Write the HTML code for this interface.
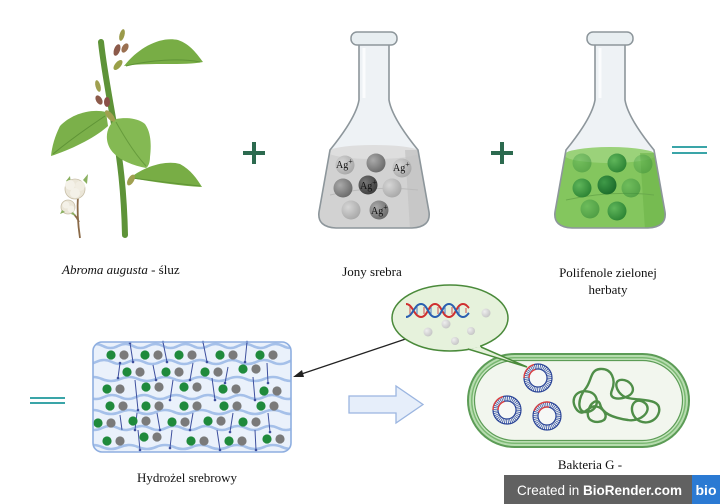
<!DOCTYPE html>
<html><head><meta charset="utf-8"><style>
html,body{margin:0;padding:0;background:#fff;}
svg{display:block;}
text{font-family:"Liberation Serif",serif;}
</style></head><body>
<svg width="720" height="504" viewBox="0 0 720 504" xmlns="http://www.w3.org/2000/svg">
<defs>
<clipPath id="f1"><path d="M359,44 L359,100 Q356,118 330,150 L319,212 Q317,227 336,228 L412,228 Q431,227 429,212 L418,150 Q392,118 389,100 L389,44 Z"/></clipPath>
<clipPath id="f2"><path d="M595,44 L595,100 Q592,118 566,150 L555,212 Q553,227 572,228 L648,228 Q667,227 665,212 L654,150 Q628,118 625,100 L625,44 Z"/></clipPath>
<clipPath id="hg"><rect x="93" y="342" width="198" height="110" rx="9"/></clipPath>
<radialGradient id="gb" cx="0.35" cy="0.35" r="0.7"><stop offset="0" stop-color="#aaa"/><stop offset="1" stop-color="#6a6a6a"/></radialGradient>
<radialGradient id="gl" cx="0.35" cy="0.35" r="0.7"><stop offset="0" stop-color="#d6d6d6"/><stop offset="1" stop-color="#a8a8a8"/></radialGradient>
<radialGradient id="gd" cx="0.35" cy="0.35" r="0.7"><stop offset="0" stop-color="#777"/><stop offset="1" stop-color="#3c3c3c"/></radialGradient>
<radialGradient id="gg" cx="0.35" cy="0.35" r="0.7"><stop offset="0" stop-color="#5fb65a"/><stop offset="1" stop-color="#2d8434"/></radialGradient>
<radialGradient id="ggd" cx="0.35" cy="0.35" r="0.7"><stop offset="0" stop-color="#3f9a48"/><stop offset="1" stop-color="#1b6b2a"/></radialGradient>
<radialGradient id="gs" cx="0.35" cy="0.35" r="0.7"><stop offset="0" stop-color="#eee"/><stop offset="1" stop-color="#c4c4c4"/></radialGradient>
</defs>

<!-- PLANT -->
<g>
<path d="M101,42 C104,70 110,100 115,130 C120,160 124,190 125,235" fill="none" stroke="#5e9338" stroke-width="6" stroke-linecap="round"/>
<path d="M124,66 C138,48 160,36 178,40 C190,44 197,54 203,62 C185,66 150,62 124,66 Z" fill="#78ad45"/>
<path d="M126,66 C150,60 180,58 200,62" fill="none" stroke="#5f9436" stroke-width="1"/>
<path d="M106,112 C90,108 70,115 60,126 C55,136 52,146 51,156 C70,150 95,138 108,126 Z" fill="#7bb04a"/>
<path d="M105,116 C90,126 70,140 53,154" fill="none" stroke="#5f9436" stroke-width="1"/>
<path d="M116,119 C126,117 138,118 145,124 C152,134 151,148 150,157 C150,163 148,167 146,168 C134,166 118,160 111,150 C104,140 106,126 116,119 Z" fill="#84b953"/>
<path d="M116,122 C126,140 136,155 146,166" fill="none" stroke="#679c3d" stroke-width="1"/>
<path d="M130,178 C145,166 166,160 180,164 C191,170 197,179 202,187 C180,186 155,182 130,178 Z" fill="#78ad45"/>
<path d="M132,178 C155,181 180,184 200,186" fill="none" stroke="#5f9436" stroke-width="1"/>
<ellipse cx="122" cy="35" rx="2.5" ry="6" fill="#9a9a4a" transform="rotate(15 122 35)"/>
<ellipse cx="117" cy="50" rx="3" ry="6" fill="#8c5a4a" transform="rotate(20 117 50)"/>
<ellipse cx="125" cy="48" rx="3" ry="5" fill="#9a7050" transform="rotate(30 125 48)"/>
<ellipse cx="118" cy="65" rx="3" ry="6" fill="#9aa048" transform="rotate(40 118 65)"/>
<ellipse cx="98" cy="86" rx="2.5" ry="6" fill="#a0a050" transform="rotate(-15 98 86)"/>
<ellipse cx="99" cy="100" rx="3" ry="5" fill="#8c5a4a" transform="rotate(-30 99 100)"/>
<ellipse cx="107" cy="102" rx="3" ry="5" fill="#8a5048"/>
<ellipse cx="110" cy="116" rx="3" ry="7" fill="#a0a050" transform="rotate(-40 110 116)"/>
<ellipse cx="131" cy="180" rx="3" ry="6" fill="#a0a050" transform="rotate(30 131 180)"/>
<!-- cotton -->
<path d="M80,238 C78,225 77,210 78,195 M79,222 C76,215 72,212 68,210" fill="none" stroke="#8a6a48" stroke-width="1.8"/>
<path d="M83,180 L88,174 L87,184 Z M66,181 L70,176 L71,184 Z" fill="#8ab060"/>
<circle cx="75" cy="189" r="10" fill="#ebe6d8" stroke="#c8bfa8" stroke-width="0.8"/>
<circle cx="70" cy="185" r="5" fill="#f4f1e8"/>
<circle cx="80" cy="186" r="5" fill="#f1ede2"/>
<circle cx="75" cy="193" r="5" fill="#f4f1e8"/>
<circle cx="68" cy="207" r="7" fill="#ebe6d8" stroke="#c8bfa8" stroke-width="0.8"/>
<circle cx="66" cy="205" r="3.5" fill="#f4f1e8"/>
<circle cx="71" cy="209" r="3.5" fill="#f4f1e8"/>
<path d="M62,210 L60,214 L65,212 Z M73,212 L76,216 L71,214 Z" fill="#8ab060"/>
</g>

<!-- PLUS SIGNS -->
<rect x="243" y="151" width="22" height="4" fill="#2c6a4f"/>
<rect x="252" y="142" width="4" height="22" fill="#2c6a4f"/>
<rect x="491" y="151" width="22" height="4" fill="#2c6a4f"/>
<rect x="500" y="142" width="4" height="22" fill="#2c6a4f"/>

<!-- EQUALS -->
<rect x="672" y="146" width="35" height="2" fill="#3aa5a8"/>
<rect x="672" y="152" width="35" height="2" fill="#3aa5a8"/>
<rect x="30" y="397" width="35" height="2" fill="#3aa5a8"/>
<rect x="30" y="402" width="35" height="2" fill="#3aa5a8"/>

<!-- FLASK 1 -->
<g>
<path d="M359,44 L359,100 Q356,118 330,150 L319,212 Q317,227 336,228 L412,228 Q431,227 429,212 L418,150 Q392,118 389,100 L389,44 Z" fill="#eef2f5"/>
<g clip-path="url(#f1)">
<rect x="310" y="150" width="130" height="90" fill="#d2d2d2"/>
<ellipse cx="374" cy="152" rx="46" ry="7" fill="#dedede"/>
<path d="M405,150 L420,150 L432,230 L410,230 Z" fill="#c2c2c2" opacity="0.7"/>
<path d="M330,195 Q374,185 418,190" fill="none" stroke="#bbb" stroke-width="1"/>
</g>
<path d="M359,44 L359,100 Q356,118 330,150 L319,212 Q317,227 336,228 L412,228 Q431,227 429,212 L418,150 Q392,118 389,100 L389,44" fill="none" stroke="#8d969b" stroke-width="1.6"/>
<rect x="351" y="32" width="46" height="13" rx="6" fill="#e8eef1" stroke="#8d969b" stroke-width="1.5"/>
<path d="M364,48 L364,98" stroke="#fff" stroke-width="3" opacity="0.8"/>
<circle cx="345" cy="165" r="9.5" fill="url(#gl)"/>
<circle cx="376" cy="163" r="9.5" fill="url(#gb)"/>
<circle cx="402" cy="168" r="9.5" fill="url(#gl)"/>
<circle cx="343" cy="188" r="9.5" fill="url(#gb)"/>
<circle cx="368" cy="185" r="9.5" fill="url(#gd)"/>
<circle cx="392" cy="188" r="9.5" fill="url(#gl)"/>
<circle cx="351" cy="210" r="9.5" fill="url(#gl)"/>
<circle cx="379" cy="210" r="9.5" fill="url(#gb)"/>
<g font-size="10" fill="#111">
<text x="336" y="168">Ag<tspan dy="-4" font-size="8">+</tspan></text>
<text x="393" y="171">Ag<tspan dy="-4" font-size="8">+</tspan></text>
<text x="360" y="189">Ag<tspan dy="-4" font-size="8">+</tspan></text>
<text x="371" y="214">Ag<tspan dy="-4" font-size="8">+</tspan></text>
</g>
</g>

<!-- FLASK 2 -->
<g>
<path d="M595,44 L595,100 Q592,118 566,150 L555,212 Q553,227 572,228 L648,228 Q667,227 665,212 L654,150 Q628,118 625,100 L625,44 Z" fill="#eef2f5"/>
<g clip-path="url(#f2)">
<rect x="546" y="153" width="130" height="90" fill="#84c65e"/>
<ellipse cx="610" cy="155" rx="46" ry="8" fill="#9bd27a"/>
<path d="M640,153 L658,153 L668,230 L645,230 Z" fill="#6db44a" opacity="0.6"/>
<path d="M566,200 Q610,190 654,195" fill="none" stroke="#6aaa4c" stroke-width="1"/>
</g>
<path d="M595,44 L595,100 Q592,118 566,150 L555,212 Q553,227 572,228 L648,228 Q667,227 665,212 L654,150 Q628,118 625,100 L625,44" fill="none" stroke="#8d969b" stroke-width="1.6"/>
<rect x="587" y="32" width="46" height="13" rx="6" fill="#e8eef1" stroke="#8d969b" stroke-width="1.5"/>
<path d="M600,48 L600,98" stroke="#fff" stroke-width="3" opacity="0.8"/>
<circle cx="582" cy="163" r="9.5" fill="url(#gg)" opacity="0.45"/>
<circle cx="617" cy="163" r="9.5" fill="url(#gg)"/>
<circle cx="643" cy="164" r="9.5" fill="url(#gg)" opacity="0.4"/>
<circle cx="582" cy="188" r="9.5" fill="url(#gg)"/>
<circle cx="607" cy="185" r="9.5" fill="url(#ggd)"/>
<circle cx="631" cy="188" r="9.5" fill="url(#gg)" opacity="0.55"/>
<circle cx="590" cy="209" r="9.5" fill="url(#gg)" opacity="0.6"/>
<circle cx="617" cy="211" r="9.5" fill="url(#gg)"/>
</g>

<!-- TOP LABELS -->
<text x="62" y="274" font-size="13" fill="#111"><tspan font-style="italic">Abroma augusta</tspan> - śluz</text>
<text x="372" y="276" font-size="13" fill="#111" text-anchor="middle">Jony srebra</text>
<text x="608" y="277" font-size="13" fill="#111" text-anchor="middle">Polifenole zielonej</text>
<text x="608" y="294" font-size="13" fill="#111" text-anchor="middle">herbaty</text>

<!-- HYDROGEL -->
<rect x="93" y="342" width="198" height="110" rx="9" fill="#eaf1fb"/>
<g clip-path="url(#hg)" fill="none" stroke="#a5c0e9" stroke-width="2.6">
<path d="M88,346 q7.5,-4 15,0 t15,0 t15,0 t15,0 t15,0 t15,0 t15,0 t15,0 t15,0 t15,0 t15,0 t15,0 t15,0 t15,0"/>
<path d="M80,362 q8,4 16,0 t16,0 t16,0 t16,0 t16,0 t16,0 t16,0 t16,0 t16,0 t16,0 t16,0 t16,0 t16,0 t16,0"/>
<path d="M84,379 q9,-4 18,0 t18,0 t18,0 t18,0 t18,0 t18,0 t18,0 t18,0 t18,0 t18,0 t18,0 t18,0"/>
<path d="M88,397 q8,4 16,0 t16,0 t16,0 t16,0 t16,0 t16,0 t16,0 t16,0 t16,0 t16,0 t16,0 t16,0 t16,0"/>
<path d="M84,412 q9,-4 18,0 t18,0 t18,0 t18,0 t18,0 t18,0 t18,0 t18,0 t18,0 t18,0 t18,0 t18,0"/>
<path d="M86,428 q8,4 16,0 t16,0 t16,0 t16,0 t16,0 t16,0 t16,0 t16,0 t16,0 t16,0 t16,0 t16,0 t16,0"/>
<path d="M84,447 q9,-4 18,0 t18,0 t18,0 t18,0 t18,0 t18,0 t18,0 t18,0 t18,0 t18,0 t18,0 t18,0"/>
</g>
<g stroke="#3d4f9e" stroke-width="1" fill="#3d4f9e">
<path d="M130,343 L133,362 M163,342 L167,362 M203,342 L207,362 M247,342 L245,362 M120,363 L118,378 M153,365 L156,380 M193,363 L190,380 M228,367 L225,383 M267,363 L268,383 M135,380 L138,410 M173,380 L170,400 M212,378 L215,400 M253,377 L255,400 M137,413 L135,430 M157,413 L160,430 M193,413 L190,430 M233,413 L230,432 M268,413 L270,432 M120,415 L122,430 M138,430 L140,450 M172,430 L170,448 M217,430 L220,450 M255,430 L256,450"/>
<g stroke="none">
<circle cx="130" cy="343" r="1.3"/><circle cx="133" cy="362" r="1.3"/><circle cx="163" cy="342" r="1.3"/><circle cx="167" cy="362" r="1.3"/><circle cx="203" cy="342" r="1.3"/><circle cx="207" cy="362" r="1.3"/><circle cx="247" cy="342" r="1.3"/><circle cx="245" cy="362" r="1.3"/>
<circle cx="120" cy="363" r="1.3"/><circle cx="118" cy="378" r="1.3"/><circle cx="156" cy="380" r="1.3"/><circle cx="190" cy="380" r="1.3"/><circle cx="225" cy="383" r="1.3"/><circle cx="268" cy="383" r="1.3"/>
<circle cx="138" cy="410" r="1.3"/><circle cx="170" cy="400" r="1.3"/><circle cx="215" cy="400" r="1.3"/><circle cx="255" cy="400" r="1.3"/>
<circle cx="135" cy="430" r="1.3"/><circle cx="160" cy="430" r="1.3"/><circle cx="190" cy="430" r="1.3"/><circle cx="230" cy="432" r="1.3"/><circle cx="270" cy="432" r="1.3"/>
<circle cx="140" cy="450" r="1.3"/><circle cx="170" cy="448" r="1.3"/><circle cx="220" cy="450" r="1.3"/><circle cx="256" cy="450" r="1.3"/>
</g>
</g>
<g>
<g fill="#1f8a3c">
<circle cx="111" cy="355" r="4.6"/><circle cx="145" cy="355" r="4.6"/><circle cx="179" cy="355" r="4.6"/><circle cx="220" cy="355" r="4.6"/><circle cx="260" cy="355" r="4.6"/>
<circle cx="127" cy="372" r="4.6"/><circle cx="166" cy="372" r="4.6"/><circle cx="205" cy="372" r="4.6"/><circle cx="243" cy="369" r="4.6"/>
<circle cx="107" cy="389" r="4.6"/><circle cx="146" cy="387" r="4.6"/><circle cx="184" cy="387" r="4.6"/><circle cx="223" cy="389" r="4.6"/><circle cx="264" cy="391" r="4.6"/>
<circle cx="110" cy="406" r="4.6"/><circle cx="146" cy="406" r="4.6"/><circle cx="184" cy="406" r="4.6"/><circle cx="224" cy="406" r="4.6"/><circle cx="261" cy="406" r="4.6"/>
<circle cx="98" cy="423" r="4.6"/><circle cx="133" cy="421" r="4.6"/><circle cx="172" cy="422" r="4.6"/><circle cx="208" cy="421" r="4.6"/><circle cx="243" cy="422" r="4.6"/>
<circle cx="107" cy="441" r="4.6"/><circle cx="144" cy="437" r="4.6"/><circle cx="191" cy="441" r="4.6"/><circle cx="229" cy="441" r="4.6"/><circle cx="267" cy="439" r="4.6"/>
</g>
<g fill="#7a7a7a">
<circle cx="124" cy="355" r="4.6"/><circle cx="158" cy="355" r="4.6"/><circle cx="192" cy="355" r="4.6"/><circle cx="233" cy="355" r="4.6"/><circle cx="273" cy="355" r="4.6"/>
<circle cx="140" cy="372" r="4.6"/><circle cx="179" cy="372" r="4.6"/><circle cx="218" cy="372" r="4.6"/><circle cx="256" cy="369" r="4.6"/>
<circle cx="120" cy="389" r="4.6"/><circle cx="159" cy="387" r="4.6"/><circle cx="197" cy="387" r="4.6"/><circle cx="236" cy="389" r="4.6"/><circle cx="277" cy="391" r="4.6"/>
<circle cx="123" cy="406" r="4.6"/><circle cx="159" cy="406" r="4.6"/><circle cx="197" cy="406" r="4.6"/><circle cx="237" cy="406" r="4.6"/><circle cx="274" cy="406" r="4.6"/>
<circle cx="111" cy="423" r="4.6"/><circle cx="146" cy="421" r="4.6"/><circle cx="185" cy="422" r="4.6"/><circle cx="221" cy="421" r="4.6"/><circle cx="256" cy="422" r="4.6"/>
<circle cx="120" cy="441" r="4.6"/><circle cx="157" cy="437" r="4.6"/><circle cx="204" cy="441" r="4.6"/><circle cx="242" cy="441" r="4.6"/><circle cx="280" cy="439" r="4.6"/>
</g>
</g>
<rect x="93" y="342" width="198" height="110" rx="9" fill="none" stroke="#8eaee0" stroke-width="1.6"/>
<text x="187" y="482" font-size="13" fill="#111" text-anchor="middle">Hydrożel srebrowy</text>

<!-- DOUBLE ARROW -->
<line x1="300" y1="374.5" x2="410" y2="337.5" stroke="#222" stroke-width="1.3"/>
<path d="M293,377 L302,370 L304,377 Z" fill="#222"/>
<path d="M417,335 L406,334 L409,341 Z" fill="#222"/>

<!-- BLOCK ARROW -->
<path d="M349,396 L396,396 L396,386 L423,404.5 L396,423 L396,413 L349,413 Z" fill="#e6eefa" stroke="#9bb5e0" stroke-width="1.3"/>

<!-- BACTERIUM -->
<rect x="467" y="353" width="223" height="95" rx="47.5" fill="#5c9c56"/>
<rect x="469" y="355" width="219" height="91" rx="45.5" fill="#b6dcae"/>
<rect x="471" y="357" width="215" height="87" rx="43.5" fill="#7ab872"/>
<rect x="472.5" y="358.5" width="212" height="84" rx="42" fill="#c8e6c0"/>
<rect x="474.5" y="360.5" width="208" height="80" rx="40" fill="#f2f6ee" stroke="#5c9c56" stroke-width="1.2"/>
<path d="M577,410 C569,400 576,388 590,392 C601,396 598,411 587,412 C576,413 578,397 586,388 C592,380 590,370 600,369 C612,368 616,380 612,390 C608,399 618,400 626,397 C640,392 630,378 620,380 C612,382 618,396 628,398 C642,401 662,398 659,412 C656,424 640,426 634,416 C628,406 636,395 646,404 C652,412 640,422 628,420 C614,418 602,414 600,404 C598,398 590,402 588,412 C586,422 598,424 604,420 C610,414 598,402 590,408 C584,412 582,415 577,410 Z" fill="none" stroke="#4f8e48" stroke-width="2.4"/>
<g transform="translate(538,378)">
<circle r="11.5" fill="none" stroke="#3e58ad" stroke-width="5" stroke-dasharray="0.8 1"/>
<circle r="11.5" fill="none" stroke="#e04545" stroke-width="5" stroke-dasharray="0.8 1" transform="rotate(150)" opacity="0"/>
<circle r="14" fill="none" stroke="#2b4597" stroke-width="1.2"/>
<circle r="9" fill="#f6f8f6" stroke="#2b4597" stroke-width="1.2"/>
<path d="M-14,0 A14,14 0 0 1 -4,-13.4" fill="none" stroke="#e04040" stroke-width="1.4"/>
<path d="M-9,0 A9,9 0 0 1 -2.6,-8.6" fill="none" stroke="#e04040" stroke-width="1.4"/>
</g>
<g transform="translate(507,410)">
<circle r="11.5" fill="none" stroke="#3e58ad" stroke-width="5" stroke-dasharray="0.8 1"/>
<circle r="14" fill="none" stroke="#2b4597" stroke-width="1.2"/>
<circle r="9" fill="#f6f8f6" stroke="#2b4597" stroke-width="1.2"/>
<path d="M-14,0 A14,14 0 0 1 -4,-13.4" fill="none" stroke="#e04040" stroke-width="1.4"/>
<path d="M-9,0 A9,9 0 0 1 -2.6,-8.6" fill="none" stroke="#e04040" stroke-width="1.4"/>
</g>
<g transform="translate(547,416)">
<circle r="11.5" fill="none" stroke="#3e58ad" stroke-width="5" stroke-dasharray="0.8 1"/>
<circle r="14" fill="none" stroke="#2b4597" stroke-width="1.2"/>
<circle r="9" fill="#f6f8f6" stroke="#2b4597" stroke-width="1.2"/>
<path d="M-13,-5 A14,14 0 0 1 3,-13.7" fill="none" stroke="#e04040" stroke-width="1.4"/>
<path d="M-8.4,-3.2 A9,9 0 0 1 2,-8.8" fill="none" stroke="#e04040" stroke-width="1.4"/>
</g>
<text x="590" y="469" font-size="13" fill="#111" text-anchor="middle">Bakteria G -</text>

<!-- BUBBLE -->
<ellipse cx="450" cy="318" rx="58" ry="33" fill="#e6f2dc" stroke="#4a8a3a" stroke-width="1.5"/>
<path d="M468,349 L527,367 L481,347" fill="#e6f2dc" stroke="#4a8a3a" stroke-width="1.5"/>
<path d="M469,347.5 L480,346" stroke="#e6f2dc" stroke-width="2.5"/>
<g fill="none" stroke-width="2">
<path d="M406,304 C413,304 414,317 421,317 C428,317 428,304 435,304 C442,304 442,317 449,317 C456,317 456,304 463,304 C466,304 467,306 469,308" stroke="#d03030"/>
<path d="M406,317 C413,317 414,304 421,304 C428,304 428,317 435,317 C442,317 442,304 449,304 C456,304 456,317 463,317 C466,317 467,315 469,313" stroke="#2a5fb0"/>
</g>
<g stroke-width="1">
<path d="M410,307 L410,314 M424,307 L424,314 M438,307 L438,314 M452,307 L452,314 M466,308 L466,313" stroke="#d05050"/>
<path d="M417,307 L417,314 M431,307 L431,314 M445,307 L445,314 M459,307 L459,314" stroke="#4a7ac0"/>
</g>
<circle cx="486" cy="313" r="4.5" fill="url(#gs)"/>
<circle cx="446" cy="324" r="4.5" fill="url(#gs)"/>
<circle cx="428" cy="332" r="4.5" fill="url(#gs)"/>
<circle cx="471" cy="331" r="4" fill="url(#gs)"/>
<circle cx="455" cy="341" r="4" fill="url(#gs)"/>

<!-- BIORENDER BANNER -->
<rect x="504" y="475" width="188" height="29" fill="#616161"/>
<rect x="692" y="475" width="28" height="29" fill="#2b7ad3"/>
<text x="517" y="495" font-family="Liberation Sans, sans-serif" font-size="14" fill="#fff" textLength="165" lengthAdjust="spacingAndGlyphs" style="font-family:'Liberation Sans',sans-serif">Created in <tspan font-weight="bold">BioRender.com</tspan></text>
<text x="706" y="495" font-size="14" font-weight="bold" fill="#fff" text-anchor="middle" style="font-family:'Liberation Sans',sans-serif">bio</text>
</svg>
</body></html>
